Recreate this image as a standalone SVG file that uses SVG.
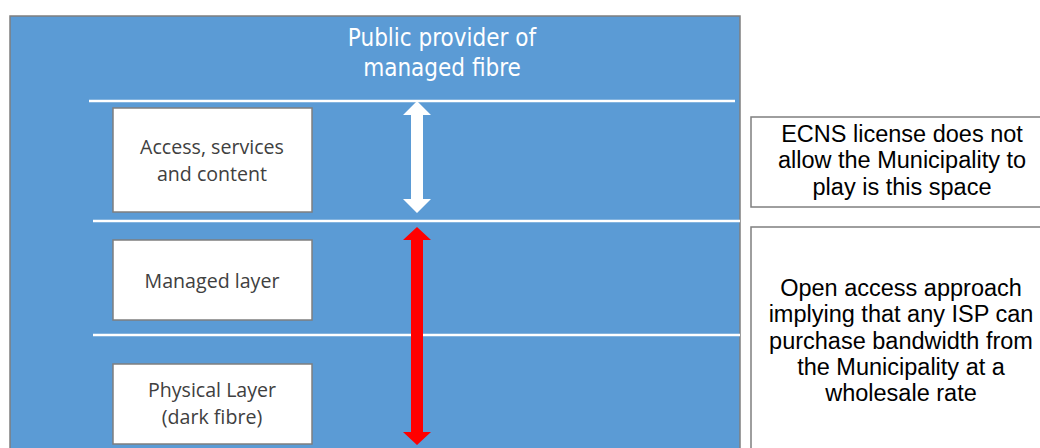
<svg xmlns="http://www.w3.org/2000/svg" width="1040" height="448" viewBox="0 0 1040 448">
<style>
.title{font-family:"Liberation Sans Narrow","DejaVu Sans Condensed","Open Sans",sans-serif;font-size:24px;fill:#ffffff;text-anchor:middle}
.box{fill:#ffffff;stroke:#7f7f7f;stroke-width:1.5}
.lbl{font-family:"Open Sans","Noto Sans",sans-serif;font-size:19.6px;fill:#404040;text-anchor:middle}
.note{font-family:"Liberation Sans",Arial,sans-serif;font-size:23.5px;fill:#000000;text-anchor:middle}
.sep{stroke:#ffffff;stroke-width:2.5}
</style>
<rect width="1040" height="448" fill="#ffffff"/>
<g id="provider">
<rect x="10" y="16" width="730" height="440" fill="#5b9bd5" stroke="#7f7f7f" stroke-width="1.5"/>
<text class="title" x="442" y="46">Public provider of</text>
<text class="title" x="442" y="76">managed fibre</text>
<line class="sep" x1="89" y1="101" x2="735" y2="101"/>
<line class="sep" x1="93" y1="221" x2="740" y2="221"/>
<line class="sep" x1="93" y1="335" x2="740" y2="335"/>
</g>
<g id="access">
<rect class="box" x="113" y="108" width="199" height="104"/>
<text class="lbl" x="212" y="154">Access, services</text>
<text class="lbl" x="212" y="181">and content</text>
</g>
<g id="managed">
<rect class="box" x="113" y="240" width="199" height="80"/>
<text class="lbl" x="212" y="288">Managed layer</text>
</g>
<g id="physical">
<rect class="box" x="113" y="364" width="199" height="80"/>
<text class="lbl" x="212" y="397">Physical Layer</text>
<text class="lbl" x="212" y="424">(dark fibre)</text>
</g>
<g id="connectors">
<polygon fill="#ffffff" points="417,101 431,115 423,115 423,199 431,199 417,213 403,199 411,199 411,115 403,115"/>
<polygon fill="#ff0000" points="417,227 431,240 423,240 423,432 431,432 417,445 403,432 411,432 411,240 403,240"/>
</g>
<g id="ecns">
<rect class="box" x="751" y="117" width="300" height="90"/>
<text class="note" x="902" y="142">ECNS license does not</text>
<text class="note" x="902" y="168">allow the Municipality to</text>
<text class="note" x="902" y="195">play is this space</text>
</g>
<g id="openaccess">
<rect class="box" x="751" y="227" width="300" height="240"/>
<text class="note" x="901" y="296">Open access approach</text>
<text class="note" x="901" y="322">implying that any ISP can</text>
<text class="note" x="901" y="349">purchase bandwidth from</text>
<text class="note" x="901" y="375">the Municipality at a</text>
<text class="note" x="901" y="401">wholesale rate</text>
</g>
</svg>
